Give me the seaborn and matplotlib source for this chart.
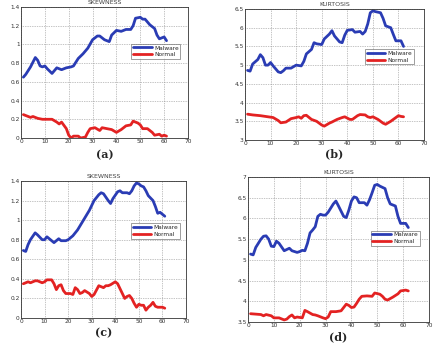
import matplotlib
matplotlib.use("Agg")
import matplotlib.pyplot as plt
import seaborn as sns
import pandas as pd

# ---- (a) skewness ----
a_mal_x = [1, 2, 4, 6, 7, 8, 9, 10, 11, 13, 15, 17, 19, 21, 22, 24, 26, 27, 28, 30, 32, 33, 35, 37, 38, 40, 42, 44, 46, 47, 48, 50, 51, 52, 54, 56, 57, 58, 60, 61]
a_mal_y = [0.65, 0.68, 0.76, 0.86, 0.83, 0.77, 0.76, 0.77, 0.74, 0.69, 0.75, 0.73, 0.75, 0.76, 0.77, 0.85, 0.90, 0.93, 0.96, 1.05, 1.09, 1.09, 1.05, 1.03, 1.10, 1.15, 1.14, 1.16, 1.16, 1.20, 1.28, 1.29, 1.27, 1.27, 1.21, 1.17, 1.10, 1.06, 1.08, 1.04]
a_nor_x = [1, 2, 4, 5, 7, 9, 13, 15, 16, 17, 19, 20, 21, 22, 24, 25, 27, 28, 29, 31, 33, 34, 36, 38, 40, 42, 44, 46, 47, 49, 50, 51, 53, 55, 56, 58, 59, 60, 61]
a_nor_y = [0.25, 0.24, 0.22, 0.23, 0.21, 0.20, 0.20, 0.17, 0.15, 0.17, 0.10, 0.03, 0.00, 0.02, 0.02, 0.00, 0.01, 0.06, 0.10, 0.11, 0.08, 0.11, 0.10, 0.09, 0.06, 0.09, 0.13, 0.14, 0.18, 0.16, 0.14, 0.10, 0.10, 0.06, 0.03, 0.04, 0.02, 0.03, 0.02]

# ---- (b) kurtosis ----
b_mal_x = [1, 2, 3, 5, 6, 7, 8, 9, 10, 11, 13, 14, 15, 16, 18, 20, 22, 23, 24, 26, 27, 28, 30, 31, 33, 34, 35, 37, 38, 39, 40, 42, 43, 45, 46, 47, 48, 49, 50, 51, 53, 54, 55, 57, 58, 59, 61, 62]
b_mal_y = [4.86, 4.84, 5.03, 5.15, 5.28, 5.20, 5.00, 5.00, 5.07, 4.98, 4.82, 4.80, 4.85, 4.92, 4.92, 5.00, 4.98, 5.10, 5.30, 5.42, 5.60, 5.57, 5.55, 5.70, 5.83, 5.92, 5.78, 5.62, 5.60, 5.80, 5.93, 5.95, 5.88, 5.90, 5.83, 5.90, 6.10, 6.40, 6.45, 6.43, 6.40, 6.25, 6.05, 6.00, 5.82, 5.65, 5.65, 5.50]
b_nor_x = [1, 3, 6, 9, 11, 13, 14, 16, 18, 20, 21, 22, 23, 24, 26, 28, 30, 31, 33, 34, 36, 38, 39, 41, 42, 44, 45, 47, 48, 49, 50, 52, 54, 55, 57, 59, 60, 61, 62]
b_nor_y = [3.69, 3.67, 3.65, 3.62, 3.60, 3.52, 3.46, 3.48, 3.57, 3.60, 3.62, 3.58, 3.65, 3.66, 3.55, 3.50, 3.40, 3.37, 3.45, 3.48, 3.55, 3.60, 3.62, 3.55, 3.55, 3.65, 3.68, 3.67, 3.62, 3.60, 3.62, 3.55, 3.45, 3.42, 3.50, 3.60, 3.65, 3.63, 3.62]

# ---- (c) skewness ----
c_mal_x = [1, 2, 3, 4, 6, 7, 9, 10, 11, 12, 14, 16, 17, 19, 20, 21, 22, 24, 26, 28, 29, 31, 33, 34, 35, 37, 38, 39, 41, 42, 43, 45, 46, 47, 48, 49, 50, 51, 52, 53, 54, 56, 57, 58, 59, 60, 61]
c_mal_y = [0.69, 0.68, 0.75, 0.80, 0.87, 0.85, 0.80, 0.80, 0.83, 0.81, 0.77, 0.81, 0.79, 0.79, 0.80, 0.82, 0.84, 0.90, 0.98, 1.06, 1.10, 1.20, 1.26, 1.28, 1.27, 1.20, 1.17, 1.22, 1.29, 1.30, 1.28, 1.28, 1.27, 1.30, 1.35, 1.38, 1.37, 1.35, 1.34, 1.30, 1.25, 1.20, 1.14, 1.07, 1.08, 1.06, 1.04]
c_nor_x = [1, 3, 4, 6, 7, 9, 10, 11, 13, 14, 15, 16, 17, 18, 19, 21, 22, 23, 24, 25, 26, 27, 29, 30, 31, 33, 35, 36, 37, 38, 40, 41, 42, 43, 44, 45, 46, 47, 48, 49, 50, 51, 52, 53, 54, 55, 56, 57, 58, 60, 61]
c_nor_y = [0.35, 0.37, 0.36, 0.38, 0.38, 0.36, 0.37, 0.39, 0.39, 0.35, 0.29, 0.33, 0.34, 0.28, 0.25, 0.25, 0.24, 0.31, 0.29, 0.25, 0.26, 0.28, 0.25, 0.22, 0.24, 0.33, 0.31, 0.33, 0.33, 0.34, 0.37, 0.35, 0.30, 0.25, 0.20, 0.22, 0.23, 0.20, 0.15, 0.11, 0.14, 0.13, 0.13, 0.08, 0.11, 0.13, 0.16, 0.12, 0.11, 0.11, 0.10]

# ---- (d) kurtosis ----
d_mal_x = [1, 2, 3, 5, 6, 7, 8, 9, 10, 11, 12, 14, 15, 16, 17, 19, 20, 21, 22, 23, 24, 25, 26, 27, 28, 29, 30, 31, 33, 34, 35, 37, 38, 39, 40, 41, 42, 43, 45, 46, 47, 48, 49, 50, 51, 53, 54, 55, 57, 58, 59, 60, 61, 62]
d_mal_y = [5.14, 5.12, 5.30, 5.50, 5.57, 5.58, 5.50, 5.33, 5.32, 5.45, 5.40, 5.22, 5.25, 5.28, 5.22, 5.18, 5.20, 5.23, 5.22, 5.40, 5.65, 5.72, 5.80, 6.05, 6.10, 6.08, 6.08, 6.15, 6.35, 6.42, 6.30, 6.05, 6.02, 6.20, 6.42, 6.52, 6.50, 6.38, 6.38, 6.32, 6.45, 6.62, 6.80, 6.82, 6.78, 6.72, 6.50, 6.35, 6.30, 6.05, 5.88, 5.88, 5.88, 5.78]
d_nor_x = [1, 3, 5, 6, 7, 9, 10, 12, 14, 15, 16, 17, 18, 19, 21, 22, 23, 25, 26, 27, 29, 30, 31, 32, 34, 36, 37, 38, 39, 40, 41, 42, 43, 44, 46, 48, 49, 51, 52, 53, 54, 56, 58, 59, 61, 62]
d_nor_y = [3.70, 3.69, 3.68, 3.65, 3.68, 3.65, 3.60, 3.60, 3.55, 3.57, 3.63, 3.67, 3.60, 3.62, 3.60, 3.78, 3.75, 3.68, 3.67, 3.65, 3.60, 3.58, 3.62, 3.75, 3.75, 3.77, 3.85, 3.93, 3.90, 3.85, 3.86, 3.95, 4.05, 4.12, 4.13, 4.12, 4.20, 4.17, 4.12, 4.05, 4.03, 4.10, 4.18, 4.25, 4.27, 4.25]

panels = [
    dict(title="SKEWNESS", tag="(a)", mal=(a_mal_x, a_mal_y), nor=(a_nor_x, a_nor_y),
         ylim=(0, 1.4), yticks=[0, 0.2, 0.4, 0.6, 0.8, 1, 1.2, 1.4],
         ylabels=["0", "0.2", "0.4", "0.6", "0.8", "1", "1.2", "1.4"],
         rect=(21, 7, 188, 138), leg=(0.955, 0.72), tag_dy=17),
    dict(title="KURTOSIS", tag="(b)", mal=(b_mal_x, b_mal_y), nor=(b_nor_x, b_nor_y),
         ylim=(3, 6.5), yticks=[3, 3.5, 4, 4.5, 5, 5.5, 6, 6.5],
         ylabels=["3", "3.5", "4", "4.5", "5", "5.5", "6", "6.5"],
         rect=(245, 9, 424, 140), leg=(0.945, 0.695), tag_dy=14),
    dict(title="SKEWNESS", tag="(c)", mal=(c_mal_x, c_mal_y), nor=(c_nor_x, c_nor_y),
         ylim=(0, 1.4), yticks=[0, 0.2, 0.4, 0.6, 0.8, 1, 1.2, 1.4],
         ylabels=["0", "0.2", "0.4", "0.6", "0.8", "1", "1.2", "1.4"],
         rect=(21, 181, 186, 318), leg=(0.965, 0.69), tag_dy=15),
    dict(title="KURTOSIS", tag="(d)", mal=(d_mal_x, d_mal_y), nor=(d_nor_x, d_nor_y),
         ylim=(3.5, 7), yticks=[3.5, 4, 4.5, 5, 5.5, 6, 6.5, 7],
         ylabels=["3.5", "4", "4.5", "5", "5.5", "6", "6.5", "7"],
         rect=(248, 177, 429, 322), leg=(0.95, 0.63), tag_dy=15),
]

xticks = [0, 10, 20, 30, 40, 50, 60, 70]

sns.set_style("white")
plt.rcParams["font.family"] = ["DejaVu Sans"]

W, H = 440, 349
fig = plt.figure(figsize=(W / 100, H / 100), dpi=100)

blue = "#2a3cb4"
red = "#e32222"

for p in panels:
    x0, y0, x1, y1 = p["rect"]
    ax = fig.add_axes([x0 / W, 1 - y1 / H, (x1 - x0) / W, (y1 - y0) / H])
    df = pd.concat([
        pd.DataFrame({"x": p["mal"][0], "y": p["mal"][1], "series": "Malware"}),
        pd.DataFrame({"x": p["nor"][0], "y": p["nor"][1], "series": "Normal"}),
    ])
    sns.lineplot(data=df, x="x", y="y", hue="series", palette={"Malware": blue, "Normal": red},
                 linewidth=2.0, ax=ax, legend=True)
    ax.set_xlim(0, 70)
    ax.set_ylim(*p["ylim"])
    ax.set_xticks(xticks)
    ax.set_yticks(p["yticks"])
    ax.set_yticklabels(p["ylabels"])
    ax.set_xlabel("")
    ax.set_ylabel("")
    ax.tick_params(labelsize=4.2, length=2, width=0.5, pad=1, colors="#333333", direction="in")
    ax.grid(True, linestyle=(0, (1, 1.5)), color="#888888", linewidth=0.5)
    for s in ax.spines.values():
        s.set_color("#333333")
        s.set_linewidth(0.6)
    ax.set_title(p["title"], fontsize=4.5, pad=2, color="#444444")
    leg = ax.legend(loc="upper right", bbox_to_anchor=p["leg"], fontsize=4.2,
                    frameon=True, fancybox=False, edgecolor="#555555",
                    handlelength=3.2, handletextpad=0.4, borderpad=0.3,
                    labelspacing=0.3, borderaxespad=0)
    leg.get_frame().set_linewidth(0.5)
    for line in leg.get_lines():
        line.set_linewidth(2.0)
    # panel tag centred below the axes, offset in pixels (1 pt = 100/72 px)
    ax.annotate(p["tag"], xy=(0.5, 0), xycoords="axes fraction",
                xytext=(0, -p["tag_dy"] * 0.72), textcoords="offset points",
                ha="center", va="center", fontsize=8,
                fontweight="bold", family="DejaVu Serif")

fig.savefig("out.png", dpi=100)
